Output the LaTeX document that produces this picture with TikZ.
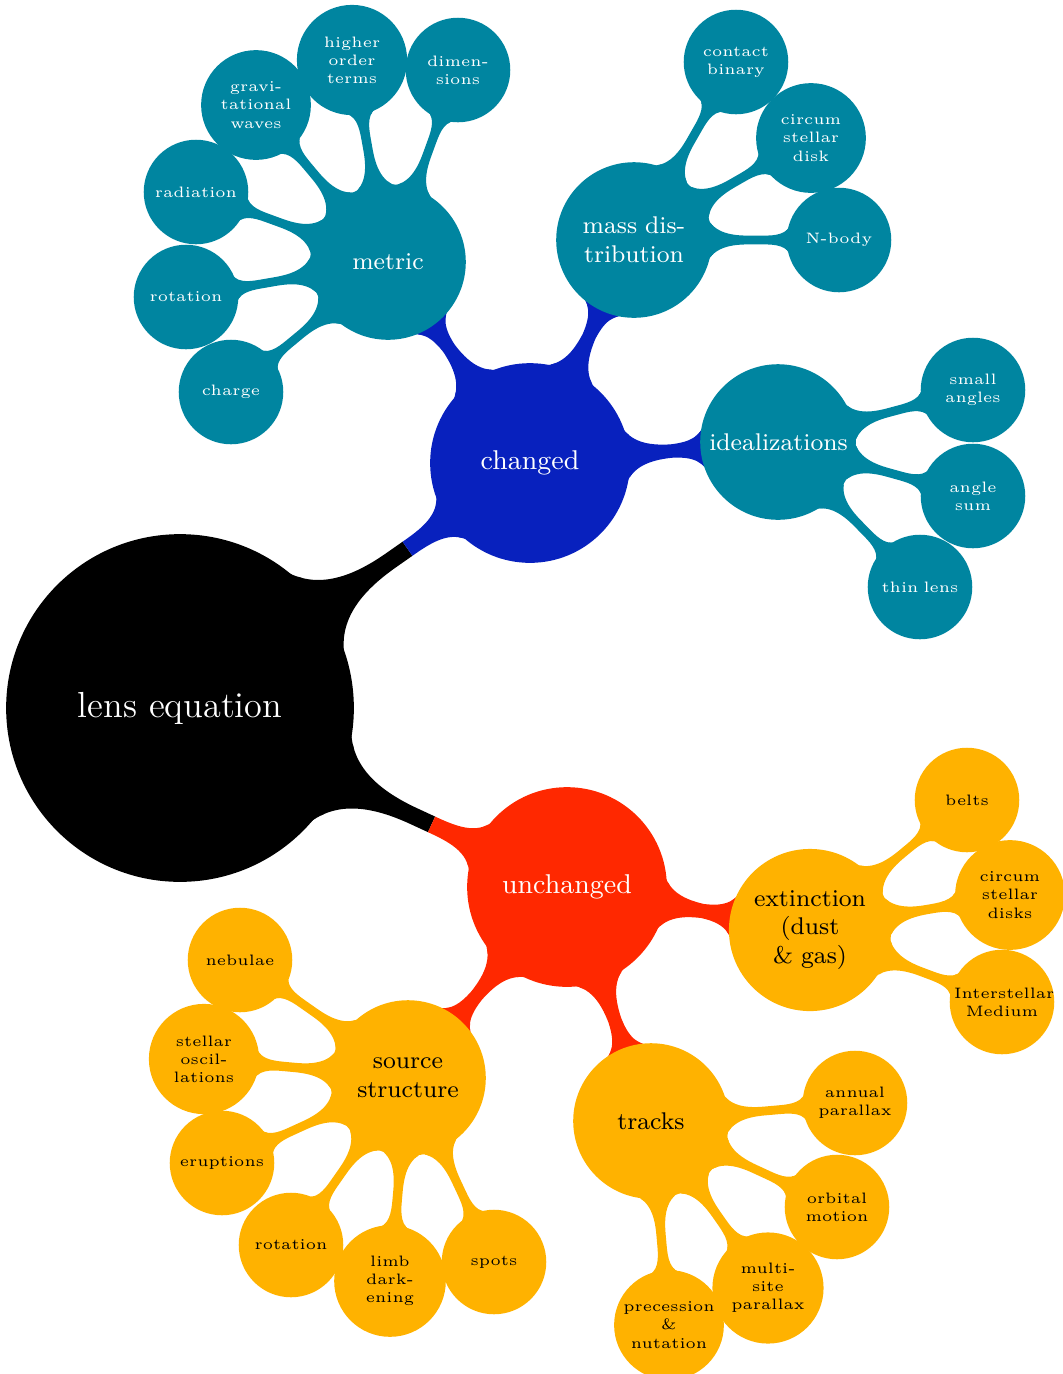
\documentclass[tikz,border=0pt]{standalone}
\usetikzlibrary{mindmap,calc,backgrounds}
\definecolor{cblue}{RGB}{8,33,190}
\definecolor{cred}{RGB}{255,40,0}
\definecolor{cteal}{RGB}{0,133,160}
\definecolor{corange}{RGB}{255,178,0}
% bar whose colour switches from #3 to #4 at fraction #5 of the way from #1 to #2
\newcommand{\mmstep}[5]{%
  \coordinate (mmT) at ($(#1)!#5!(#2)$);
  \begin{scope}
    \clip ($(mmT)!4!90:(#2)$) -- ($(mmT)!4!-90:(#2)$) -- ($(mmT)!-4!(#2)$) -- cycle;
    \path (#1) to[circle connection bar switch color=from (#3) to (#3)] (#2);
  \end{scope}
  \begin{scope}
    \clip ($(mmT)!4!90:(#2)$) -- ($(mmT)!4!-90:(#2)$) -- ($(mmT)!4!(#2)$) -- cycle;
    \path (#1) to[circle connection bar switch color=from (#4) to (#4)] (#2);
  \end{scope}
}
\begin{document}
\begin{tikzpicture}[mindmap, x=0.331pt, y=-0.331pt,
  rootc/.style={concept, concept color=black, text=white, minimum size=113.9pt,
    text width=99pt, inner sep=0pt, align=center, font=\large},
  lvla/.style={concept, minimum size=64.9pt, text width=55pt, inner sep=0pt,
    align=center, font=\small, text=white},
  lvlb/.style={concept, minimum size=50.3pt, text width=45.5pt, inner sep=0pt,
    align=center, font=\footnotesize},
  lvlc/.style={concept, minimum size=33.4pt, text width=31.7pt, inner sep=0pt,
    align=center, font=\tiny},
  tealc/.style={concept color=cteal, text=white},
  orangec/.style={concept color=corange, text=black}]
\useasboundingbox (0,0) rectangle (1063,1374);
% root and level 1
\node[rootc] (root) at (180,708) {lens equation};
\node[lvla, concept color=cblue] (chg) at (530,463) {changed};
\node[lvla, concept color=cred] (unc) at (567,887) {unchanged};
% level 2 (changed)
\node[lvlb, tealc] (metric) at (388,262) {metric};
\node[lvlb, tealc] (massd) at (634,240) {mass dis-\\tribution};
\node[lvlb, tealc] (ideal) at (778,442) {idealizations};
% level 3 (metric)
\node[lvlc, tealc] (charge) at (231,392) {charge};
\node[lvlc, tealc] (rota) at (186,297) {rotation};
\node[lvlc, tealc] (rad) at (196,192) {radiation};
\node[lvlc, tealc] (grav) at (256,105) {gravi-\\tational\\waves};
\node[lvlc, tealc] (hot) at (352,60) {higher\\order\\terms};
\node[lvlc, tealc] (dim) at (458,70) {dimen-\\sions};
% level 3 (mass distribution)
\node[lvlc, tealc] (cb) at (736,62) {contact\\binary};
\node[lvlc, tealc] (csd) at (811,138) {circum\\stellar\\disk};
\node[lvlc, tealc] (nb) at (839,240) {N-body};
% level 3 (idealizations)
\node[lvlc, tealc] (sa) at (973,390) {small\\angles};
\node[lvlc, tealc] (as) at (973,496) {angle\\sum};
\node[lvlc, tealc] (tl) at (920,587) {thin lens};
% level 2 (unchanged)
\node[lvlb, orangec] (ext) at (810,930) {extinction\\(dust\\\& gas)};
\node[lvlb, orangec] (trk) at (651,1121) {tracks};
\node[lvlb, orangec] (src) at (408,1078) {source\\structure};
% level 3 (extinction)
\node[lvlc, orangec] (belts) at (967,800) {belts};
\node[lvlc, orangec] (csds) at (1010,895) {circum\\stellar\\disks};
\node[lvlc, orangec] (ism) at (1002,1002) {\mbox{Interstellar}\\Medium};
% level 3 (tracks)
\node[lvlc, orangec] (ap) at (855,1103) {annual\\parallax};
\node[lvlc, orangec] (om) at (837,1207) {orbital\\motion};
\node[lvlc, orangec] (msp) at (768,1288) {multi-\\site\\parallax};
\node[lvlc, orangec] (pn) at (669,1325) {precession\\\&\\nutation};
% level 3 (source structure)
\node[lvlc, orangec] (neb) at (240,960) {nebulae};
\node[lvlc, orangec] (so) at (204,1059) {stellar\\oscil-\\lations};
\node[lvlc, orangec] (eru) at (222,1163) {eruptions};
\node[lvlc, orangec] (rotb) at (291,1245) {rotation};
\node[lvlc, orangec] (limb) at (390,1281) {limb\\dark-\\ening};
\node[lvlc, orangec] (spots) at (494,1262) {spots};
\begin{pgfonlayer}{background}
% root to level 1: colour switches part-way along
\mmstep{root}{chg}{black}{cblue}{0.65}
\mmstep{root}{unc}{black}{cred}{0.65}
% level 1 to level 2: colour switches at the child's rim
\foreach \c in {metric,massd,ideal}
  \path (chg) to[circle connection bar switch color=from (cblue) to (cblue)] (\c);
\foreach \c in {ext,trk,src}
  \path (unc) to[circle connection bar switch color=from (cred) to (cred)] (\c);
% level 2 to level 3
\foreach \c in {charge,rota,rad,grav,hot,dim}
  \path (metric) to[circle connection bar switch color=from (cteal) to (cteal)] (\c);
\foreach \c in {cb,csd,nb}
  \path (massd) to[circle connection bar switch color=from (cteal) to (cteal)] (\c);
\foreach \c in {sa,as,tl}
  \path (ideal) to[circle connection bar switch color=from (cteal) to (cteal)] (\c);
\foreach \c in {belts,csds,ism}
  \path (ext) to[circle connection bar switch color=from (corange) to (corange)] (\c);
\foreach \c in {ap,om,msp,pn}
  \path (trk) to[circle connection bar switch color=from (corange) to (corange)] (\c);
\foreach \c in {neb,so,eru,rotb,limb,spots}
  \path (src) to[circle connection bar switch color=from (corange) to (corange)] (\c);
\end{pgfonlayer}
\end{tikzpicture}
\end{document}
